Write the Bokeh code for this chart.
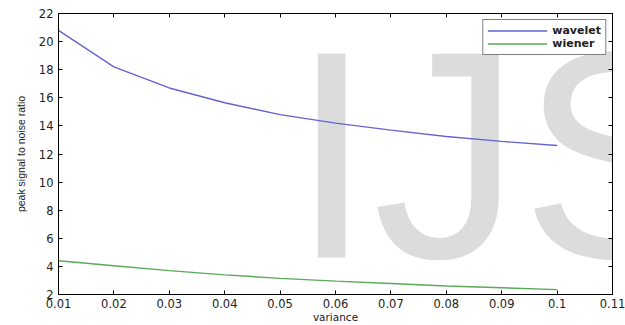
from bokeh.plotting import figure
from bokeh.models import (FixedTicker, CustomJSTickFormatter, LinearAxis, Range1d,
                          Legend, LegendItem)
from bokeh.core.properties import value
from bokeh.embed import file_html
from bokeh.resources import INLINE

variance = [0.01, 0.02, 0.03, 0.04, 0.05, 0.06, 0.07, 0.08, 0.09, 0.10]
wavelet = [20.8, 18.2, 16.7, 15.65, 14.8, 14.2, 13.7, 13.25, 12.9, 12.6]
wiener = [4.4, 4.05, 3.7, 3.4, 3.15, 2.95, 2.78, 2.6, 2.48, 2.35]

x_ticks = [0.01, 0.02, 0.03, 0.04, 0.05, 0.06, 0.07, 0.08, 0.09, 0.10, 0.11]
x_tick_labels = ["0.01", "0.02", "0.03", "0.04", "0.05", "0.06", "0.07", "0.08", "0.09", "0.1", "0.11"]
y_ticks = [2, 4, 6, 8, 10, 12, 14, 16, 18, 20, 22]

p = figure(width=625, height=325, output_backend="svg", toolbar_location=None,
           x_range=Range1d(0.01, 0.11), y_range=Range1d(2, 22),
           min_border_left=58, min_border_right=13, min_border_top=13, min_border_bottom=30)
p.grid.visible = False
p.outline_line_color = "black"
p.background_fill_color = "white"
p.border_fill_color = "white"

fmt = CustomJSTickFormatter(args=dict(xt=x_ticks, xl=x_tick_labels), code="""
const i = xt.findIndex(t => Math.abs(t - tick) < 1e-9);
return i >= 0 ? xl[i] : "";
""")
blank = CustomJSTickFormatter(code="return '';")

def style_axis(ax, show_labels=True):
    ax.axis_line_color = "black"
    ax.axis_line_width = 1
    ax.major_tick_line_color = "black"
    ax.major_tick_in = 4
    ax.major_tick_out = 0
    ax.minor_tick_line_color = None
    ax.major_label_text_font = "DejaVu Sans"
    ax.major_label_text_font_size = "11.5px"
    ax.major_label_text_color = "#222222"
    if not show_labels:
        ax.major_label_standoff = 0
        ax.major_label_text_font_size = "0px"

p.xaxis.ticker = FixedTicker(ticks=x_ticks)
p.xaxis.formatter = fmt
p.yaxis.ticker = FixedTicker(ticks=y_ticks)
style_axis(p.xaxis[0])
style_axis(p.yaxis[0])
p.xaxis.major_label_standoff = 4
p.yaxis.major_label_standoff = 5
p.xaxis.axis_label = "variance"
p.xaxis.axis_label_standoff = 0
p.xaxis.axis_label_text_font = "DejaVu Sans"
p.xaxis.axis_label_text_font_size = "10.5px"
p.xaxis.axis_label_text_font_style = "normal"
p.xaxis.axis_label_text_color = "#222222"
p.yaxis.axis_label = "peak signal to noise ratio"
p.yaxis.axis_label_standoff = 9
p.yaxis.axis_label_text_font = "Liberation Sans"
p.yaxis.axis_label_text_font_size = "10.5px"
p.yaxis.axis_label_text_font_style = "normal"
p.yaxis.axis_label_text_color = "#222222"

top_ax = LinearAxis(ticker=FixedTicker(ticks=x_ticks), formatter=blank)
right_ax = LinearAxis(ticker=FixedTicker(ticks=y_ticks), formatter=blank)
style_axis(top_ax, False)
style_axis(right_ax, False)
p.add_layout(top_ax, "above")
p.add_layout(right_ax, "right")

# watermark (drawn first so it sits behind the lines)
p.text(x=[0.05188], y=[11.93], text=["IJS"], text_font=value("Liberation Sans"),
       text_font_size="296px", text_color="#dcdcdc", text_baseline="alphabetic",
       text_align="left")

r1 = p.line(variance, wavelet, line_color="#6464d2", line_width=1.4)
r2 = p.line(variance, wiener, line_color="#5aaa5a", line_width=1.4)

legend = Legend(items=[LegendItem(label="wavelet", renderers=[r1]),
                       LegendItem(label="wiener", renderers=[r2])],
                location="top_right")
legend.border_line_color = "black"
legend.border_line_width = 1
legend.background_fill_color = "white"
legend.background_fill_alpha = 1
legend.padding = 4
legend.spacing = 0
legend.margin = 6
legend.glyph_width = 60
legend.glyph_height = 11
legend.label_height = 11
legend.label_standoff = 5
legend.label_text_font = "DejaVu Sans"
legend.label_text_font_size = "11px"
legend.label_text_font_style = "bold"
legend.label_text_color = "#222222"
p.add_layout(legend, "center")

open("out.html", "w").write(file_html(p, INLINE))
